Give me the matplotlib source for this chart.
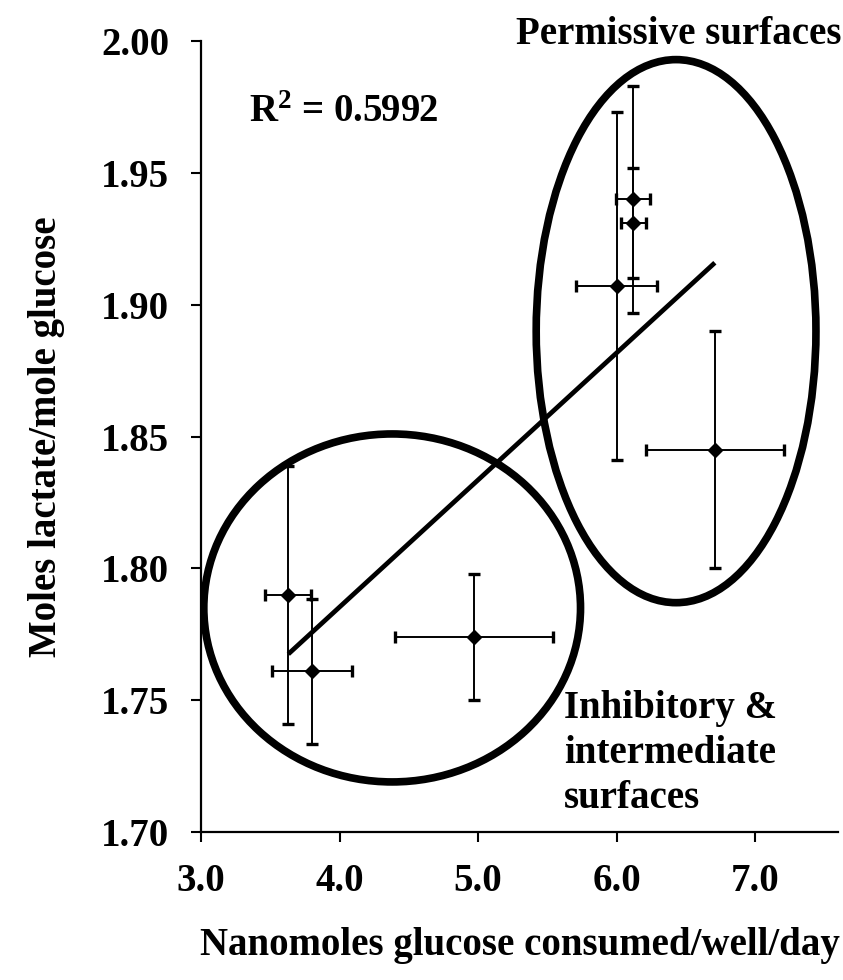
import numpy as np
import matplotlib
matplotlib.use("Agg")
import matplotlib.pyplot as plt
from matplotlib.patches import Ellipse

# ---- data ----
glucose = [3.63, 3.80, 4.97, 6.71, 6.00, 6.12, 6.12]
glucose_err = [0.165, 0.29, 0.57, 0.50, 0.29, 0.125, 0.09]
ratio = [1.790, 1.761, 1.774, 1.845, 1.907, 1.940, 1.931]
ratio_err = [0.049, 0.0275, 0.024, 0.045, 0.066, 0.043, 0.021]

x_ticks = [3.0, 4.0, 5.0, 6.0, 7.0]
y_ticks = [1.70, 1.75, 1.80, 1.85, 1.90, 1.95, 2.00]

# group ellipses (data coords): center x, center y, width, height
inhib_ellipse = (4.38, 1.785, 2.72, 0.132)
perm_ellipse = (6.43, 1.890, 2.02, 0.206)

r2_text = "R$^2$ = 0.5992"

plt.rcParams['font.family'] = ['Liberation Serif', 'DejaVu Serif']
plt.rcParams['font.weight'] = 'bold'
plt.rcParams['mathtext.fontset'] = 'custom'
plt.rcParams['mathtext.rm'] = 'Liberation Serif:bold'
plt.rcParams['mathtext.default'] = 'rm'

fig = plt.figure(figsize=(8.43, 9.80), dpi=100)
ax = fig.add_axes([0.2385, 0.151, 0.7557, 0.807])

xs = np.array(glucose)
ys = np.array(ratio)

ax.errorbar(xs, ys, xerr=glucose_err, yerr=ratio_err, fmt='D', color='black',
            markersize=7, elinewidth=1.4, capsize=4.5, capthick=2.4,
            ecolor='black', zorder=3)

# linear trend line
slope, intercept = np.polyfit(xs, ys, 1)
xl = np.array([xs.min(), xs.max()])
ax.plot(xl, slope * xl + intercept, color='black', lw=3.4, solid_capstyle='butt', zorder=2)

for cx, cy, w, h in (inhib_ellipse, perm_ellipse):
    ax.add_patch(Ellipse((cx, cy), w, h, fill=False, lw=5.5, edgecolor='black',
                         clip_on=False, zorder=2))

ax.set_xlim(3.0, 7.6)
ax.set_ylim(1.70, 2.00)
ax.set_xticks(x_ticks)
ax.set_yticks(y_ticks)
ax.set_xticklabels([f"{v:.1f}" for v in x_ticks])
ax.set_yticklabels([f"{v:.2f}" for v in y_ticks])

for s in ('top', 'right'):
    ax.spines[s].set_visible(False)
for s in ('left', 'bottom'):
    ax.spines[s].set_linewidth(1.6)

ax.tick_params(axis='both', direction='out', length=7, width=1.5, labelsize=28)
ax.tick_params(axis='x', pad=15)
ax.tick_params(axis='y', pad=16)

ax.set_xlabel("Nanomoles glucose consumed/well/day", fontsize=28, fontweight='bold', labelpad=20)
ax.set_ylabel("Moles lactate/mole glucose", fontsize=28, fontweight='bold', labelpad=26)

ax.text(0.075, 0.91, r2_text, transform=ax.transAxes, fontsize=28, fontweight='bold',
        ha='left', va='center')
ax.text(1.005, 0.985, "Permissive surfaces", transform=ax.transAxes, fontsize=28,
        fontweight='bold', ha='right', va='bottom')
ax.text(0.57, 0.18, "Inhibitory &\nintermediate\nsurfaces", transform=ax.transAxes,
        fontsize=28, fontweight='bold', ha='left', va='top', linespacing=1.3)

fig.savefig("out.png", dpi=100)
